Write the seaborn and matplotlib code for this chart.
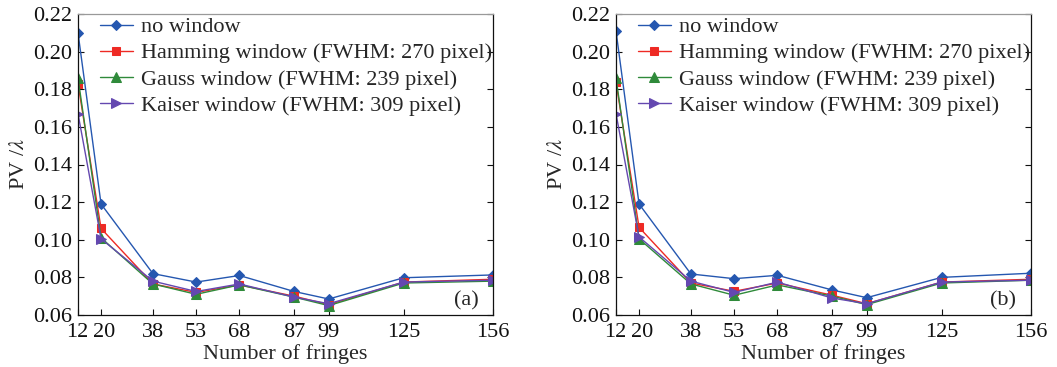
import numpy as np
import pandas as pd
import matplotlib
matplotlib.use("Agg")
import matplotlib.pyplot as plt
import matplotlib.transforms as mtransforms
import seaborn as sns

sns.set_theme(style="ticks")
plt.rcParams["font.family"] = ["Liberation Serif", "DejaVu Serif"]
plt.rcParams["mathtext.fontset"] = "stix"

# number of fringes
fringes = [12, 20, 38, 53, 68, 87, 99, 125, 156]

# panel (a)
a_none = [0.210, 0.119, 0.082, 0.0775, 0.081, 0.0725, 0.0685, 0.0798, 0.0813]
a_hamming = [0.183, 0.106, 0.0765, 0.072, 0.076, 0.070, 0.0655, 0.0775, 0.079]
a_gauss = [0.186, 0.101, 0.0765, 0.071, 0.076, 0.0695, 0.065, 0.077, 0.078]
a_kaiser = [0.167, 0.1005, 0.078, 0.0725, 0.0765, 0.0695, 0.066, 0.0775, 0.0785]

# panel (b)
b_none = [0.211, 0.119, 0.0818, 0.0793, 0.0811, 0.0733, 0.0692, 0.080, 0.0822]
b_hamming = [0.1837, 0.1066, 0.077, 0.0726, 0.077, 0.0705, 0.066, 0.0775, 0.079]
b_gauss = [0.186, 0.1005, 0.0765, 0.0705, 0.076, 0.070, 0.0655, 0.077, 0.0785]
b_kaiser = [0.167, 0.1015, 0.078, 0.072, 0.0775, 0.069, 0.066, 0.0775, 0.0785]

labels = ["no window",
          "Hamming window (FWHM: 270 pixel)",
          "Gauss window (FWHM: 239 pixel)",
          "Kaiser window (FWHM: 309 pixel)"]
colors = ["#2557b0", "#ee2a24", "#2f8a3a", "#6448b0"]
markers = ["D", "s", "^", ">"]
msizes = [5.5, 5.5, 6.5, 6.5]

fig = plt.figure(figsize=(10.57, 3.67), dpi=100)
W, H = 1057, 367
ax_a = fig.add_axes([78 / W, 52 / H, 415 / W, 301 / H])
ax_b = fig.add_axes([616 / W, 52 / H, 415 / W, 301 / H])

panels = [(ax_a, [a_none, a_hamming, a_gauss, a_kaiser], "(a)"),
          (ax_b, [b_none, b_hamming, b_gauss, b_kaiser], "(b)")]

fs = 16
for ax, series, tag in panels:
    for vals, lab, c, m, ms in zip(series, labels, colors, markers, msizes):
        df = pd.DataFrame({"fringes": fringes, "pv": vals})
        sns.lineplot(data=df, x="fringes", y="pv", ax=ax, color=c, marker=m,
                     markersize=ms, markeredgecolor=c, linewidth=1.0, label=lab)
    ax.set_xlim(12, 156)
    ax.set_ylim(0.06, 0.22)
    ax.set_xticks(fringes)
    yt = np.arange(0.06, 0.2201, 0.02)
    ax.set_yticks(yt)
    ax.set_yticklabels([f"{v:.2f}" for v in yt])
    ax.tick_params(direction="in", labelsize=fs, length=4, width=0.8,
                   top=False, right=True, colors="#111111")
    ax.tick_params(axis="x", pad=6)
    ax.tick_params(axis="y", pad=4)
    # nudge the crowded "12" and "20" labels apart
    xt = ax.get_xticklabels()
    xt[0].set_transform(xt[0].get_transform() +
                        mtransforms.ScaledTranslation(-1 / 100, 0, fig.dpi_scale_trans))
    xt[1].set_transform(xt[1].get_transform() +
                        mtransforms.ScaledTranslation(3 / 100, 0, fig.dpi_scale_trans))
    for s in ax.spines.values():
        s.set_linewidth(0.9)
        s.set_color("#111111")
    ax.spines["top"].set_color("#999999")
    ax.set_xlabel("Number of fringes", fontsize=fs, labelpad=1)
    ax.set_ylabel("PV /$\\lambda$", fontsize=fs, labelpad=3)
    ax.text(0.965, 0.015, tag, transform=ax.transAxes, ha="right", va="bottom",
            fontsize=fs)
    ax.legend(loc="upper left", bbox_to_anchor=(0.02, 1.035), frameon=False,
              fontsize=fs, handlelength=1.5, handletextpad=0.35,
              labelspacing=0.25, borderaxespad=0.2)

fig.savefig("out.png", dpi=100, facecolor="white")
